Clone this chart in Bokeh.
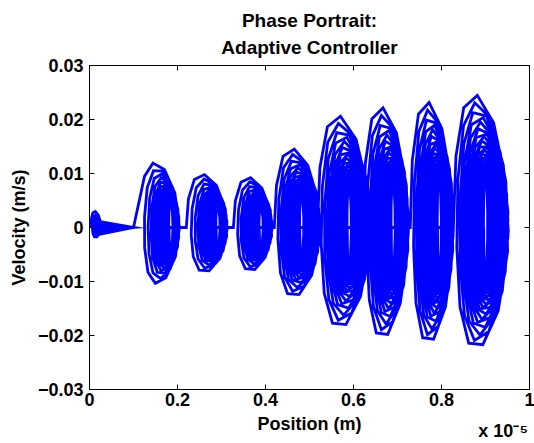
import numpy as np
from bokeh.plotting import figure
from bokeh.models import Range1d, FixedTicker, LinearAxis, Title
from bokeh.embed import file_html
from bokeh.resources import INLINE

# ---------------- texts ----------------
title_lines = ["Phase Portrait:", "Adaptive Controller"]
x_label = "Position (m)"
y_label = "Velocity (m/s)"
x_exponent = "x 10\u207b\u2075"
x_exponent_at = [0.94]
x_ticks = [0, 0.2, 0.4, 0.6, 0.8, 1.0]
x_tick_labels = ["0", "0.2", "0.4", "0.6", "0.8", "1"]
y_ticks = [-0.03, -0.02, -0.01, 0, 0.01, 0.02, 0.03]
y_tick_labels = ["\u22120.03", "\u22120.02", "\u22120.01", "0", "0.01", "0.02", "0.03"]

# ---------------- data (position in units of 1e-5 m, velocity in m/s) ----------------
# each oscillation cluster of the phase portrait
cluster_left = [0.003, 0.115, 0.220, 0.327, 0.420, 0.518, 0.622, 0.729, 0.827]
cluster_right = [0.026, 0.204, 0.313, 0.415, 0.524, 0.638, 0.725, 0.827, 0.952]
cluster_inner_center = [0.020, 0.185, 0.292, 0.390, 0.482, 0.590, 0.690, 0.795, 0.900]
cluster_vtop = [0.0032, 0.0121, 0.0101, 0.0095, 0.0149, 0.0211, 0.0227, 0.0237, 0.0250]
cluster_vbot = [-0.0022, -0.0110, -0.0089, -0.0086, -0.0136, -0.0196, -0.0216, -0.0225, -0.0235]
cluster_loops = [14, 28, 28, 28, 34, 38, 38, 40, 44]
cluster_inner_amp = [0.12, 0.40, 0.40, 0.40, 0.40, 0.38, 0.38, 0.38, 0.38]
first_step_end = [0.1, 0.0]  # point the first cluster reaches before the jump
samples_per_loop = 11.3


def cluster_curve(k):
    l, r, ci = cluster_left[k], cluster_right[k], cluster_inner_center[k]
    n = cluster_loops[k]
    th0 = 0.9 if k == 1 else 0.0
    dth = 2 * np.pi / samples_per_loop
    th = np.append(np.arange(th0, 2 * np.pi * n, dth), 2 * np.pi * n)
    s = (th - th0) / (2 * np.pi * n - th0)
    wmin = 0.004
    L = l + (ci - wmin - l) * (0.6 * (1 - np.exp(-8.0 * s)) + 0.4 * s)
    R = r + (ci + wmin - r) * s ** 2
    c, w = (L + R) / 2, (R - L) / 2
    fa = cluster_inner_amp[k]
    decay = fa + (1 - fa) * np.exp(-4.5 * s)
    at = cluster_vtop[k] * decay
    ab = -cluster_vbot[k] * decay
    x = c - w * np.cos(th) - 0.25 * w * (1 - np.cos(2 * th)) / 2
    sn = np.sin(th)
    v = np.where(sn >= 0, at * sn, ab * sn)
    if k == 0:
        near = np.cos(th) < np.cos(np.pi - dth / 2)
        x = np.where(near, first_step_end[0], x)
        v = np.where(near, first_step_end[1], v)
        x = np.append(x, first_step_end[0])
        v = np.append(v, first_step_end[1])
    return x, v


xs, vs = [], []
for k in range(len(cluster_left)):
    cx, cv = cluster_curve(k)
    xs.append(cx)
    vs.append(cv)
pos = np.concatenate(xs)
vel = np.concatenate(vs)

# ---------------- figure ----------------
FONT = "Liberation Sans"
p = figure(width=534, height=443, output_backend="svg", toolbar_location=None,
           x_range=Range1d(0, 1), y_range=Range1d(-0.03, 0.03),
           min_border_left=89, min_border_right=5, min_border_top=65, min_border_bottom=54)
p.title = None
p.background_fill_color = "white"
p.border_fill_color = "white"
p.outline_line_color = "black"
p.outline_line_width = 1
p.xgrid.visible = False
p.ygrid.visible = False

p.line(pos, vel, line_color="#0000ff", line_width=2.8, line_join="miter")


def style_axis(ax, ticks, labels, show_labels):
    ax.ticker = FixedTicker(ticks=ticks)
    ax.major_label_overrides = {t: lab for t, lab in zip(ticks, labels)}
    ax.major_tick_in = 5
    ax.major_tick_out = 0
    ax.minor_tick_line_color = None
    ax.axis_line_color = "black"
    ax.major_tick_line_color = "black"
    ax.major_label_text_font = FONT
    ax.major_label_text_font_style = "bold"
    ax.major_label_text_color = "black"
    if show_labels:
        ax.major_label_text_font_size = "18px"
    else:
        ax.major_label_text_font_size = "0px"
        ax.major_label_standoff = 0


style_axis(p.xaxis[0], x_ticks, x_tick_labels, True)
style_axis(p.yaxis[0], y_ticks, y_tick_labels, True)
p.xaxis[0].major_label_standoff = 3
p.yaxis[0].major_label_standoff = 6
for ax, lab in ((p.xaxis[0], x_label), (p.yaxis[0], y_label)):
    ax.axis_label = lab
    ax.axis_label_text_font = FONT
    ax.axis_label_text_font_style = "bold"
    ax.axis_label_text_font_size = "18px"
    ax.axis_label_text_color = "black"
p.xaxis[0].axis_label_standoff = 5
p.yaxis[0].axis_label_standoff = 6

top_ax = LinearAxis()
right_ax = LinearAxis()
style_axis(top_ax, x_ticks, x_tick_labels, False)
style_axis(right_ax, y_ticks, y_tick_labels, False)
p.add_layout(top_ax, "above")
p.add_layout(right_ax, "right")

# exponent note of the x axis: a label-only axis below the main one, pulled up
exp_ax = LinearAxis(ticker=FixedTicker(ticks=x_exponent_at),
                    major_label_overrides={x_exponent_at[0]: x_exponent})
exp_ax.axis_line_color = None
exp_ax.major_tick_line_color = None
exp_ax.minor_tick_line_color = None
exp_ax.major_label_text_font = FONT
exp_ax.major_label_text_font_style = "bold"
exp_ax.major_label_text_font_size = "18px"
exp_ax.major_label_text_color = "black"
exp_ax.major_label_standoff = -22
p.add_layout(exp_ax, "below")

# two-line title: the line nearest the frame is added first
for line, sd in ((title_lines[1], 15), (title_lines[0], -6)):
    p.add_layout(Title(text=line, align="center", standoff=sd, text_font=FONT,
                       text_font_style="bold", text_font_size="19px", text_color="black"),
                 "above")

open("out.html", "w").write(file_html(p, INLINE))
